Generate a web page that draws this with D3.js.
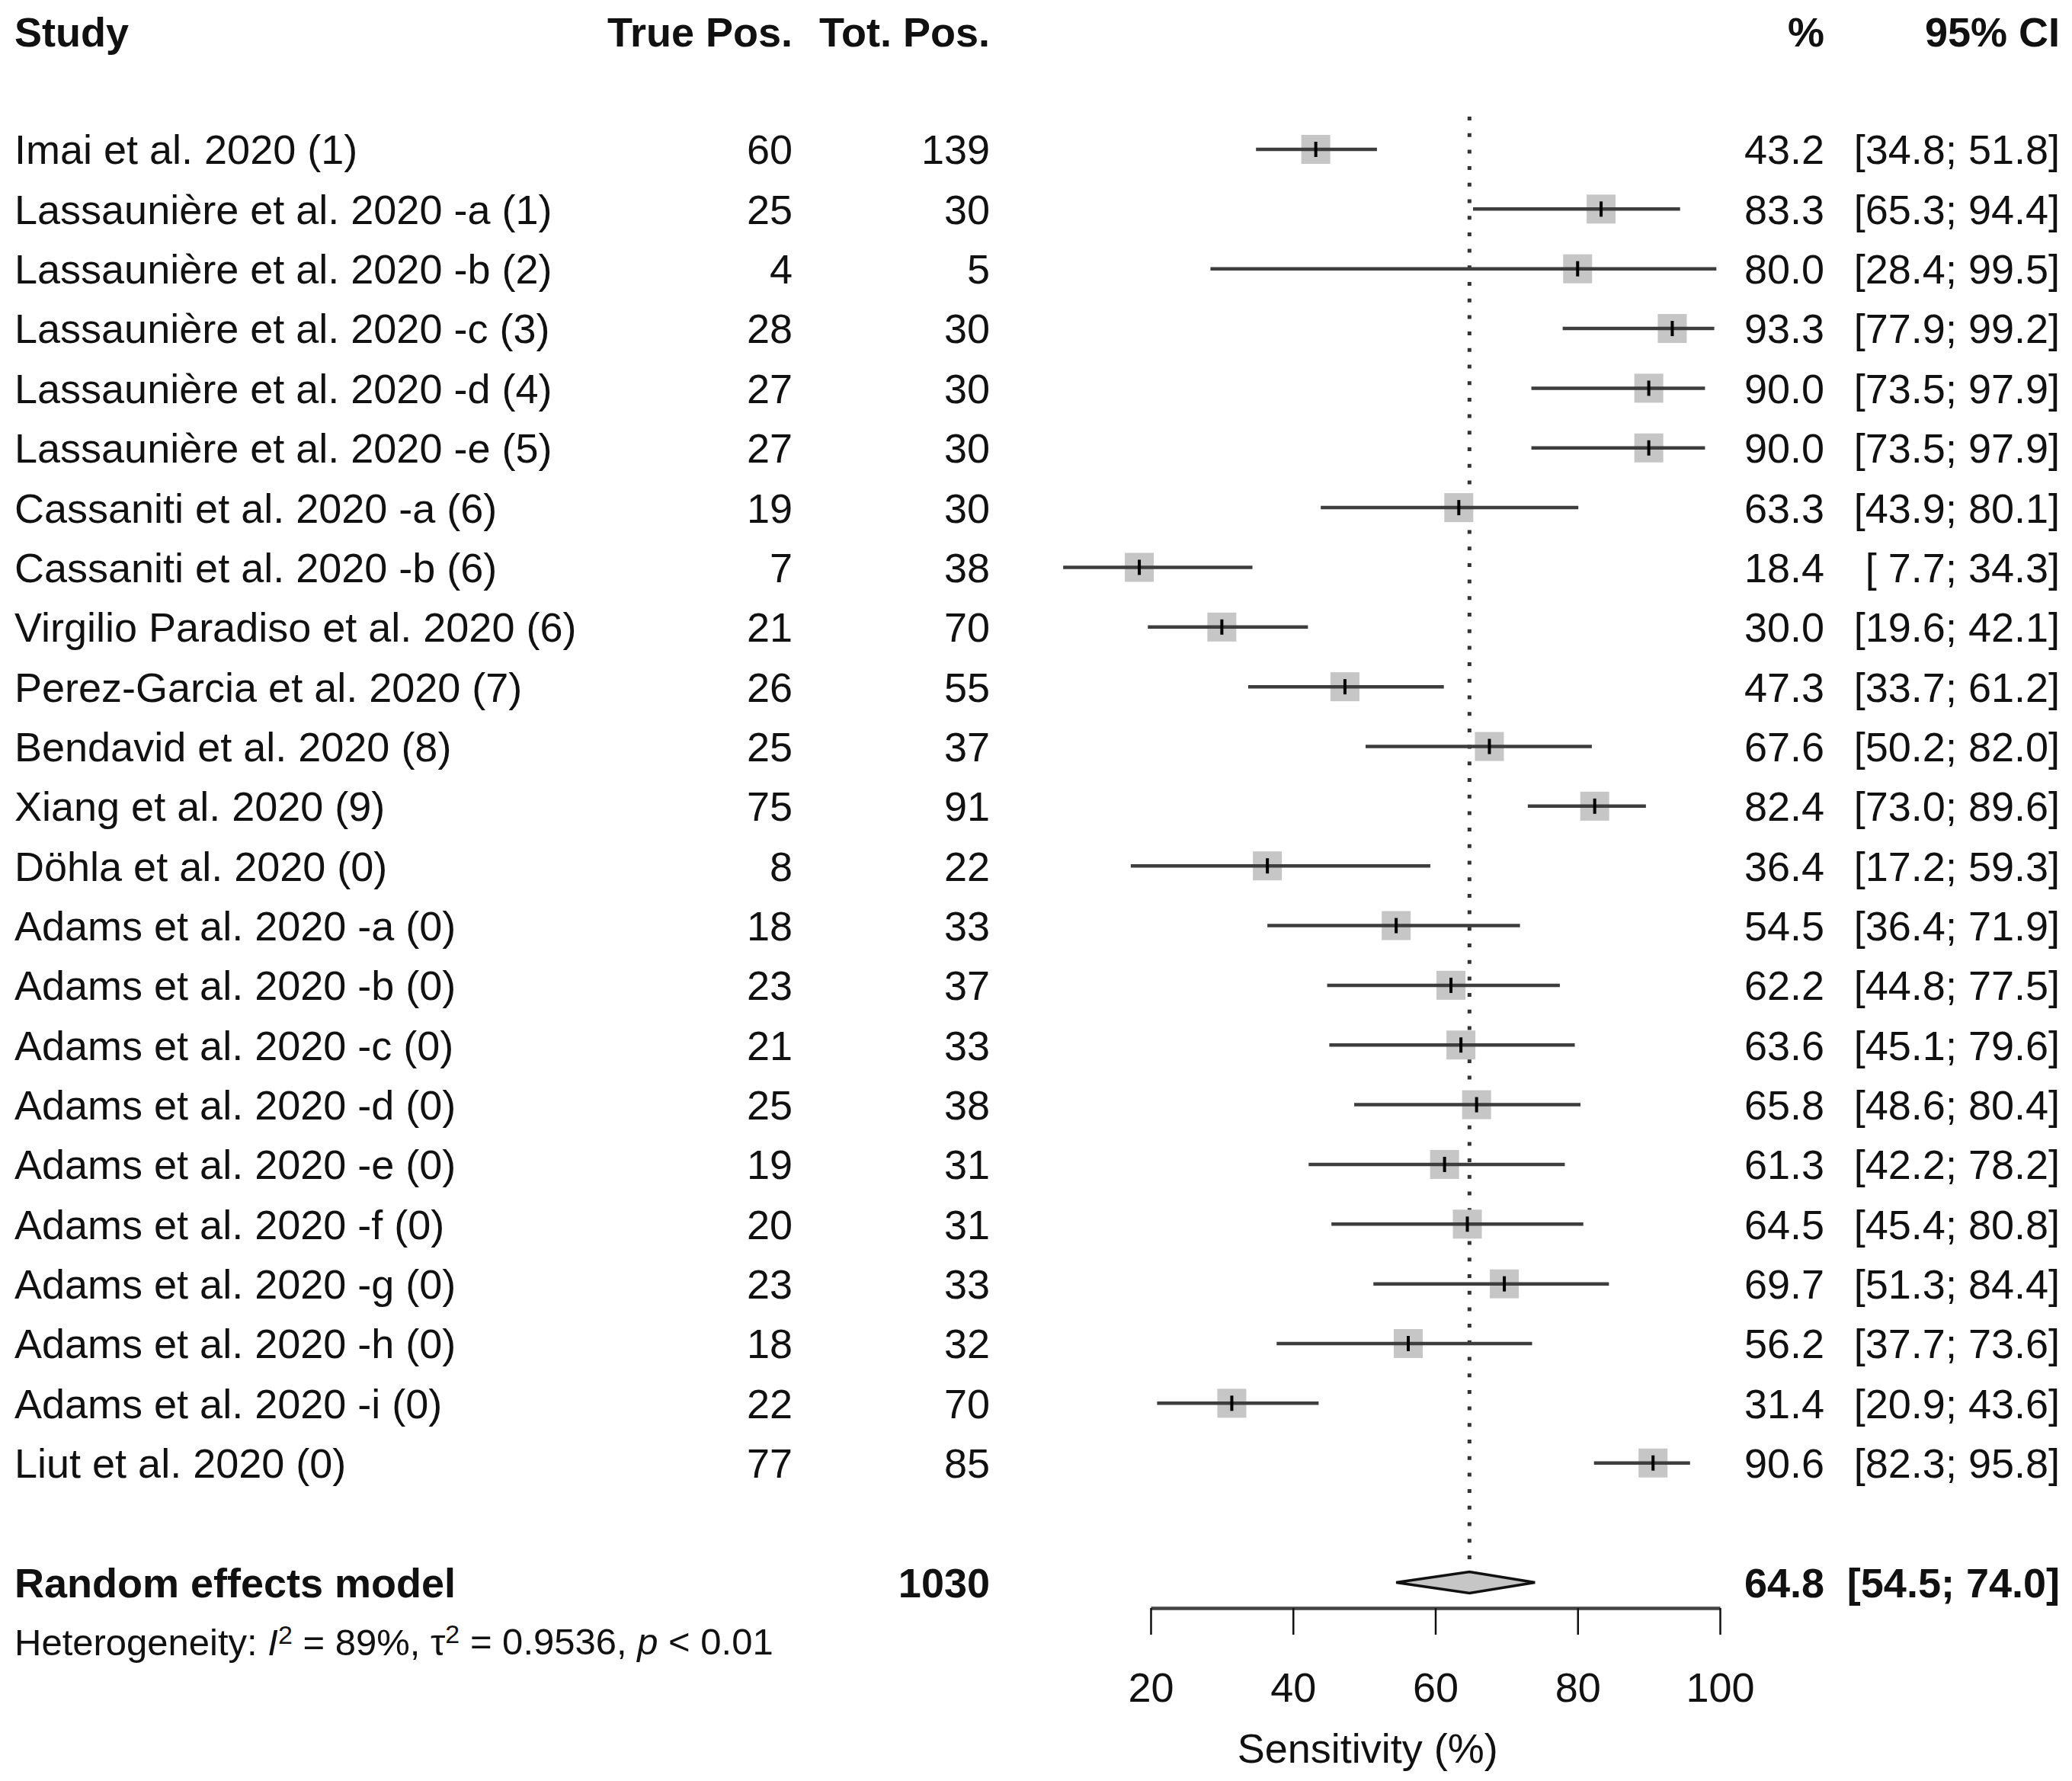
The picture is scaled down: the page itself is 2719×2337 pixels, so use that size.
<!DOCTYPE html>
<html>
<head>
<meta charset="utf-8">
<script src="https://cdn.jsdelivr.net/npm/d3@7"></script>
<style>
  body { margin: 0; background: #fff; }
  text { font-family: "Liberation Sans", Arial, sans-serif; fill: #111; white-space: pre; }
</style>
</head>
<body>
<div id="chart"></div>
<script>
// Dados
const studies = [
    "Imai et al. 2020 (1)",
    "Lassaunière et al. 2020 -a (1)",
    "Lassaunière et al. 2020 -b (2)",
    "Lassaunière et al. 2020 -c (3)",
    "Lassaunière et al. 2020 -d (4)",
    "Lassaunière et al. 2020 -e (5)",
    "Cassaniti et al. 2020 -a (6)",
    "Cassaniti et al. 2020 -b (6)",
    "Virgilio Paradiso et al. 2020 (6)",
    "Perez-Garcia et al. 2020 (7)",
    "Bendavid et al. 2020 (8)",
    "Xiang et al. 2020 (9)",
    "Döhla et al. 2020 (0)",
    "Adams et al. 2020 -a (0)",
    "Adams et al. 2020 -b (0)",
    "Adams et al. 2020 -c (0)",
    "Adams et al. 2020 -d (0)",
    "Adams et al. 2020 -e (0)",
    "Adams et al. 2020 -f (0)",
    "Adams et al. 2020 -g (0)",
    "Adams et al. 2020 -h (0)",
    "Adams et al. 2020 -i (0)",
    "Liut et al. 2020 (0)"
];
const truePos = [60, 25, 4, 28, 27, 27, 19, 7, 21, 26, 25, 75, 8, 18, 23, 21, 25, 19, 20, 23, 18, 22, 77];
const totPos = [139, 30, 5, 30, 30, 30, 30, 38, 70, 55, 37, 91, 22, 33, 37, 33, 38, 31, 31, 33, 32, 70, 85];
const estimate = [43.2, 83.3, 80.0, 93.3, 90.0, 90.0, 63.3, 18.4, 30.0, 47.3, 67.6, 82.4, 36.4, 54.5, 62.2, 63.6, 65.8, 61.3, 64.5, 69.7, 56.2, 31.4, 90.6];
const lower = [34.8, 65.3, 28.4, 77.9, 73.5, 73.5, 43.9, 7.7, 19.6, 33.7, 50.2, 73.0, 17.2, 36.4, 44.8, 45.1, 48.6, 42.2, 45.4, 51.3, 37.7, 20.9, 82.3];
const upper = [51.8, 94.4, 99.5, 99.2, 97.9, 97.9, 80.1, 34.3, 42.1, 61.2, 82.0, 89.6, 59.3, 71.9, 77.5, 79.6, 80.4, 78.2, 80.8, 84.4, 73.6, 43.6, 95.8];

const pooledTotal = 1030;
const pooled = { est: 64.8, lower: 54.5, upper: 74.0 };
const xTicks = [20, 40, 60, 80, 100];

const width = 2719;
const height = 2337;
const fontSize = 54;

const svg = d3.select("#chart")
    .append("svg")
    .attr("width", width)
    .attr("height", height)
    .attr("viewBox", `0 0 ${width} ${height}`);

svg.append("rect").attr("width", width).attr("height", height).attr("fill", "#fff");

// Escalas
const x = d3.scaleLinear()
    .domain([20, 100])
    .range([1510, 2257]);

const y = d3.scaleLinear()
    .domain([0, 22])
    .range([196, 196 + 22 * 78.35]);

const col = { study: 19, truePos: 1040, totPos: 1299, est: 2394, ci: 2703 };
const fmt = d3.format(".1f");
const fmtCI = (lo, hi) => {
    const l = lo < 10 ? " " + fmt(lo) : fmt(lo);
    const h = hi < 10 ? " " + fmt(hi) : fmt(hi);
    return `[${l}; ${h}]`;
};

function addText(tx, ty, str, anchor, bold, size) {
    return svg.append("text")
        .attr("x", tx)
        .attr("y", ty)
        .attr("dy", "0.36em")
        .attr("text-anchor", anchor)
        .style("font-size", (size || fontSize) + "px")
        .style("font-weight", bold ? "bold" : "normal")
        .text(str);
}

// Cabeçalho
const yHead = y(-2) + 2;
addText(col.study, yHead, "Study", "start", true);
addText(col.truePos, yHead, "True Pos.", "end", true);
addText(col.totPos, yHead, "Tot. Pos.", "end", true);
addText(col.est, yHead, "%", "end", true);
addText(col.ci, yHead, "95% CI", "end", true);

// Linha pontilhada do efeito combinado
const yPooled = y(24);
const diamondHalf = 14;
svg.append("line")
    .attr("x1", x(pooled.est))
    .attr("x2", x(pooled.est))
    .attr("y1", 153)
    .attr("y2", yPooled - diamondHalf)
    .attr("stroke", "#333")
    .attr("stroke-width", 5)
    .attr("stroke-dasharray", "5,16.7");

// Linhas dos estudos
studies.forEach((s, i) => {
    const yy = y(i);
    addText(col.study, yy, s, "start", false);
    addText(col.truePos, yy, truePos[i], "end", false);
    addText(col.totPos, yy, totPos[i], "end", false);
    addText(col.est, yy, fmt(estimate[i]), "end", false);
    addText(col.ci, yy, fmtCI(lower[i], upper[i]), "end", false);
});

const sq = 38;
svg.selectAll(".square")
    .data(estimate)
    .enter()
    .append("rect")
    .attr("class", "square")
    .attr("x", d => x(d) - sq / 2)
    .attr("y", (d, i) => y(i) - sq / 2)
    .attr("width", sq)
    .attr("height", sq)
    .attr("fill", "#c6c6c6");

svg.selectAll(".ci")
    .data(estimate)
    .enter()
    .append("line")
    .attr("class", "ci")
    .attr("x1", (d, i) => x(lower[i]))
    .attr("x2", (d, i) => x(upper[i]))
    .attr("y1", (d, i) => y(i))
    .attr("y2", (d, i) => y(i))
    .attr("stroke", "#3d3d3d")
    .attr("stroke-width", 4.5);

svg.selectAll(".mark")
    .data(estimate)
    .enter()
    .append("line")
    .attr("class", "mark")
    .attr("x1", d => x(d))
    .attr("x2", d => x(d))
    .attr("y1", (d, i) => y(i) - 10)
    .attr("y2", (d, i) => y(i) + 10)
    .attr("stroke", "#000")
    .attr("stroke-width", 4);

// Modelo de efeitos aleatórios
addText(col.study, yPooled, "Random effects model", "start", true);
addText(col.totPos, yPooled, pooledTotal, "end", true);
addText(col.est, yPooled, fmt(pooled.est), "end", true);
addText(col.ci, yPooled, fmtCI(pooled.lower, pooled.upper), "end", true);

svg.append("path")
    .attr("d", [
        "M", x(pooled.lower), yPooled,
        "L", x(pooled.est), yPooled - diamondHalf,
        "L", x(pooled.upper), yPooled,
        "L", x(pooled.est), yPooled + diamondHalf, "Z"
    ].join(" "))
    .attr("fill", "#c6c6c6")
    .attr("stroke", "#111")
    .attr("stroke-width", 3.5);

// Heterogeneidade
const het = svg.append("text")
    .attr("x", col.study)
    .attr("y", y(25))
    .attr("dy", "0.36em")
    .style("font-size", "49px");
het.append("tspan").text("Heterogeneity: ");
het.append("tspan").style("font-style", "italic").text("I");
het.append("tspan").attr("dy", "-0.45em").style("font-size", "34px").text("2");
het.append("tspan").attr("dy", "0.3em").text(" = 89%, \u03c4");
het.append("tspan").attr("dy", "-0.45em").style("font-size", "34px").text("2");
het.append("tspan").attr("dy", "0.3em").text(" = 0.9536, ");
het.append("tspan").style("font-style", "italic").text("p");
het.append("tspan").text(" < 0.01");

// Eixo x
const xAxis = d3.axisBottom(x)
    .tickValues(xTicks)
    .tickSize(35)
    .tickSizeOuter(0)
    .tickPadding(50);

const gAxis = svg.append("g")
    .attr("transform", "translate(0,2110)")
    .call(xAxis);

gAxis.select(".domain")
    .attr("stroke", "#444")
    .attr("stroke-width", 4.5);
gAxis.selectAll(".tick line")
    .attr("stroke", "#111")
    .attr("stroke-width", 2.5);
gAxis.selectAll(".tick text")
    .attr("fill", "#111")
    .style("font-size", fontSize + "px")
    .style("font-family", "'Liberation Sans', Arial, sans-serif");

addText(x(50.5), 2294, "Sensitivity (%)", "middle", false);
</script>
</body>
</html>
